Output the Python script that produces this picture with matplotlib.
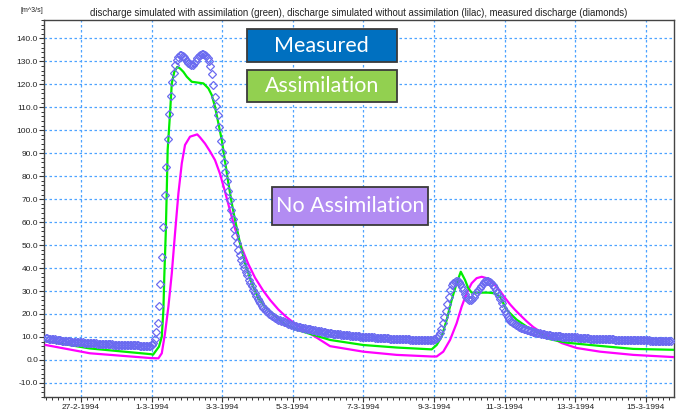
"""
Discharge at the outlet: simulation with and without assimilation vs measured
"""
import datetime as dt
import matplotlib
matplotlib.use('Agg')
import matplotlib.pyplot as plt
import matplotlib.dates as mdates
from matplotlib.patches import Rectangle
from matplotlib.ticker import FuncFormatter, MultipleLocator, FixedLocator


# ###
# data
# ###
START = dt.datetime(1994, 2, 26, 0, 0)

# measured discharge [m^3/s], hourly from 26-2-1994 00:00 (one row per day)
measured = [
    9.5, 9.4, 9.3, 9.2, 9.1, 9.0, 8.9, 8.8, 8.7, 8.6, 8.5, 8.4, 8.4, 8.3, 8.2, 8.1, 8.1, 8.0, 7.9, 7.9, 7.8, 7.8, 7.7, 7.7,
    7.6, 7.6, 7.5, 7.5, 7.4, 7.4, 7.4, 7.3, 7.3, 7.2, 7.2, 7.1, 7.1, 7.0, 7.0, 7.0, 6.9, 6.9, 6.9, 6.8, 6.8, 6.8, 6.7, 6.7,
    6.7, 6.6, 6.6, 6.6, 6.5, 6.5, 6.5, 6.5, 6.4, 6.4, 6.4, 6.4, 6.3, 6.3, 6.3, 6.3, 6.2, 6.2, 6.2, 6.2, 6.2, 6.1, 6.1, 6.1,
    6.3, 7.5, 9.2, 12.3, 16.0, 23.5, 33.0, 45.0, 58.0, 72.0, 84.0, 96.0, 107.0, 115.0, 121.0, 125.0, 128.5, 130.5, 132.0, 132.7, 132.8, 132.5, 131.8, 131.0,
    130.0, 129.3, 128.8, 128.4, 128.5, 129.2, 130.3, 131.3, 132.2, 132.7, 133.0, 133.0, 132.8, 132.4, 131.6, 130.2, 127.8, 124.3, 119.7, 114.5, 110.5, 106.5, 101.5, 95.5,
    90.6, 86.3, 82.0, 78.0, 73.5, 69.5, 65.3, 61.3, 57.0, 54.0, 51.0, 48.0, 45.5, 43.5, 41.6, 40.0, 38.3, 36.8, 34.9, 33.4, 32.0, 30.5, 29.3, 28.0,
    26.7, 25.6, 24.6, 23.6, 22.8, 22.1, 21.4, 20.8, 20.2, 19.7, 19.2, 18.7, 18.3, 17.9, 17.6, 17.3, 17.0, 16.8, 16.5, 16.3, 16.0, 15.8, 15.5, 15.3,
    15.1, 14.9, 14.7, 14.5, 14.4, 14.2, 14.1, 13.9, 13.8, 13.6, 13.5, 13.4, 13.3, 13.2, 13.1, 12.9, 12.8, 12.7, 12.5, 12.4, 12.3, 12.1, 12.0, 11.9,
    11.8, 11.7, 11.6, 11.5, 11.4, 11.3, 11.2, 11.2, 11.1, 11.0, 10.9, 10.9, 10.8, 10.7, 10.7, 10.6, 10.5, 10.5, 10.4, 10.4, 10.3, 10.3, 10.2, 10.2,
    10.1, 10.1, 10.0, 10.0, 9.9, 9.9, 9.8, 9.8, 9.7, 9.7, 9.7, 9.6, 9.6, 9.5, 9.5, 9.5, 9.4, 9.4, 9.3, 9.3, 9.3, 9.2, 9.2, 9.1,
    9.1, 9.1, 9.0, 9.0, 9.0, 8.9, 8.9, 8.9, 8.8, 8.8, 8.8, 8.7, 8.7, 8.7, 8.6, 8.6, 8.6, 8.6, 8.5, 8.5, 8.5, 8.5, 8.6, 8.7,
    8.9, 9.2, 9.6, 10.3, 11.8, 13.6, 16.0, 18.8, 21.3, 24.2, 27.6, 30.6, 32.5, 33.5, 34.1, 34.4, 34.4, 34.1, 33.1, 31.7, 30.3, 28.9, 27.6, 26.7,
    26.2, 26.1, 26.4, 27.3, 28.5, 29.6, 30.5, 31.4, 32.3, 33.1, 33.8, 34.3, 34.5, 34.5, 34.1, 33.4, 32.5, 31.6, 30.5, 29.3, 28.0, 26.4, 24.7, 22.8,
    21.1, 19.9, 18.9, 17.8, 17.1, 16.5, 16.0, 15.5, 15.0, 14.6, 14.3, 14.0, 13.7, 13.5, 13.3, 13.1, 12.9, 12.7, 12.5, 12.3, 12.1, 12.0, 11.9, 11.7,
    11.6, 11.4, 11.2, 11.1, 10.9, 10.8, 10.7, 10.7, 10.6, 10.5, 10.5, 10.4, 10.4, 10.3, 10.3, 10.2, 10.2, 10.1, 10.1, 10.0, 10.0, 10.0, 9.9, 9.9,
    9.8, 9.8, 9.7, 9.7, 9.6, 9.6, 9.5, 9.5, 9.4, 9.4, 9.3, 9.3, 9.3, 9.2, 9.2, 9.2, 9.1, 9.1, 9.1, 9.0, 9.0, 9.0, 9.0, 8.9,
    8.9, 8.9, 8.9, 8.8, 8.8, 8.8, 8.8, 8.8, 8.7, 8.7, 8.7, 8.7, 8.7, 8.6, 8.6, 8.6, 8.6, 8.6, 8.6, 8.5, 8.5, 8.5, 8.5, 8.5,
    8.5, 8.5, 8.5, 8.4, 8.4, 8.4, 8.4, 8.4, 8.4, 8.4, 8.4, 8.4, 8.4, 8.4, 8.4, 8.4, 8.4, 8.4,
]

# simulated with assimilation (green): hours after START, discharge
assim_hours = [0, 30, 71.6, 73, 77, 78.9, 80, 80.6, 81.6, 82.3, 82.9, 84.5, 85.7, 87.4, 89.5, 91.3, 93.6, 95.9,
               99.3, 103.8, 107.2, 110.6, 112.9, 115.1, 117.4, 119.7, 121.4, 124.2, 126.5, 128.7, 132.1, 135.5,
               140.1, 144.5, 149.1, 161.5, 170.7, 193.3, 215.9, 238.6, 262.4, 265.8, 269.2, 272.6, 276, 279.4,
               282.2, 285.1, 287.3, 289.6, 300.9, 305.5, 308.9, 313.4, 320.2, 327, 336.1, 342.9, 354.2, 376.9,
               399.5, 428]
assim_q = [8.2, 5.0, 2.5, 2.3, 5.8, 10.1, 21.8, 36.2, 55.1, 74.0, 91.4, 107.3, 120.4, 125.4, 127.6, 126.9, 125.4, 123.3,
           121.1, 120.7, 120.4, 118.2, 115.3, 110.2, 103.0, 95.7, 88.5, 76.9, 68.2, 60.9, 50.8, 42.1,
           33.4, 26.8, 23.2, 16.0, 13.1, 8.7, 6.5, 5.4, 4.6, 6.5, 10.1, 17.4, 26.1, 33.4,
           38.4, 34.8, 31.2, 29.3, 29.3, 29.0, 27.5, 21.8, 17.5, 14.5, 11.5, 9.0, 7.5, 6.1,
           4.8, 4.4]

# simulated without assimilation (lilac / magenta)
noassim_hours = [0, 30, 71.6, 76.6, 78.9, 81.1, 83.4, 85.7, 87.9, 90.2, 92.5, 94.7, 98.1, 103, 104.9, 108.3,
                 111.7, 115.1, 118.5, 121.9, 125.3, 128.7, 133.3, 137.7, 142.3, 147.7, 152.7, 158.1, 163.4, 168.2,
                 176.3, 184, 193.3, 215.9, 238.6, 262.4, 265.8, 270.3, 274.9, 279.4, 282.8, 286.2, 289.6, 293, 296.4,
                 299.8, 304.3, 308.9, 312.3, 315.7, 319.1, 322.5, 327, 331.5, 337, 342.9, 351, 361, 376.9, 399.5, 428]
noassim_q = [6.5, 2.9, 0.8, 0.7, 2.9, 11.6, 23.2, 37.7, 55.1, 72.5, 85.6, 93.6, 97.2, 98.2, 96.9, 94.2,
             90.8, 87.0, 81.0, 73.3, 65.0, 57.2, 48.7, 41.8, 35.8, 30.3, 26.0, 22.0, 18.8, 16.4,
             12.8, 9.8, 6.0, 3.6, 2.2, 1.5, 1.5, 3.6, 8.7, 16.0, 23.2, 29.0, 33.4, 35.6, 36.2,
             35.6, 33.4, 30.0, 27.0, 24.2, 21.8, 19.6, 16.8, 14.3, 12.0, 10.0, 7.3, 5.2, 3.6, 2.2, 1.2]

tick_dates = [dt.datetime(1994, 2, 27) + dt.timedelta(days=2 * i) for i in range(9)]

TITLE = ('discharge simulated with assimilation (green), discharge simulated without '
         'assimilation (lilac), measured discharge (diamonds)')
UNIT_LABEL = '[m^3/s]'
BOX_TEXT = ['Measured', 'Assimilation', 'No Assimilation']

# ###
# figure variables
# ###
COLOR_GREEN   = '#00ee00'
COLOR_LILAC   = '#ff00ff'
COLOR_MEASURE = '#6b6bf0'
COLOR_GRID    = '#4da3ff'
BOX_COLORS    = ['#0070c0', '#92d050', '#b28cf2']
# box positions in axes fraction: x0, y0, width, height
BOX_POS = [(0.3214, 0.8877, 0.2382, 0.0876),
           (0.3214, 0.7815, 0.2382, 0.0858),
           (0.3616, 0.4558, 0.2477, 0.1009)]


def to_dates(hours):
    return [START + dt.timedelta(hours=h) for h in hours]


def date_label(x, pos):
    d = mdates.num2date(x)
    return '{0}-{1}-{2}'.format(d.day, d.month, d.year)


def main_function():
    plt.rcParams['font.family'] = ['Liberation Sans', 'DejaVu Sans']

    fig = plt.figure(figsize=(6.77, 4.13), dpi=100, facecolor='w')
    ax = fig.add_axes([0.0654, 0.0395, 0.9302, 0.9121])

    meas_time = to_dates(range(len(measured)))
    ax.plot(to_dates(noassim_hours), noassim_q, color=COLOR_LILAC, linewidth=1.6, zorder=3)
    ax.plot(to_dates(assim_hours), assim_q, color=COLOR_GREEN, linewidth=1.6, zorder=3)
    ax.plot(meas_time, measured, linestyle='none', marker='D', markersize=3.8,
            markerfacecolor='none', markeredgecolor=COLOR_MEASURE, markeredgewidth=0.9, zorder=4)

    # axes
    ax.set_xlim(START - dt.timedelta(hours=1), START + dt.timedelta(hours=427.2))
    ax.set_ylim(-16, 148)
    ax.xaxis.set_major_locator(FixedLocator(mdates.date2num(tick_dates)))
    ax.xaxis.set_minor_locator(mdates.HourLocator(byhour=range(0, 24, 4)))
    ax.xaxis.set_major_formatter(FuncFormatter(date_label))
    ax.yaxis.set_major_locator(MultipleLocator(10))
    ax.yaxis.set_minor_locator(MultipleLocator(2))
    ax.yaxis.set_major_formatter(FuncFormatter(lambda v, p: '{0:.1f}'.format(v)))
    ax.tick_params(axis='both', which='major', labelsize=6, length=3.5, width=0.8,
                   colors='#333333', labelcolor='#222222')
    ax.tick_params(axis='both', which='minor', length=2, width=0.7, colors='#333333')
    ax.tick_params(axis='y', which='major', pad=1)
    ax.tick_params(axis='x', which='major', pad=2)
    for side in ['left', 'bottom', 'top', 'right']:
        ax.spines[side].set_color('#444444')
        ax.spines[side].set_linewidth(1.0)
    ax.grid(True, which='major', color=COLOR_GRID, linestyle=(0, (2, 2)), linewidth=0.9, zorder=1)
    ax.set_axisbelow(True)

    # title and unit
    ax.set_title(TITLE, fontsize=6.9, color='#222222', pad=3)
    fig.text(0.03, 0.974, UNIT_LABEL, fontsize=5, color='#222222', ha='left', va='center')

    # annotation boxes
    for text, color, pos in zip(BOX_TEXT, BOX_COLORS, BOX_POS):
        rect = Rectangle((pos[0], pos[1]), pos[2], pos[3], transform=ax.transAxes,
                         facecolor=color, edgecolor='#3a3a3a', linewidth=1.3, zorder=6)
        ax.add_patch(rect)
        ax.text(pos[0] + pos[2] / 2, pos[1] + pos[3] / 2, text, transform=ax.transAxes,
                ha='center', va='center', color='white', fontsize=15.5,
                family=['Lato', 'DejaVu Sans'], zorder=7)

    plt.savefig('out.png', dpi=100, facecolor='w')
    plt.close(fig)


if __name__ == '__main__':
    main_function()
